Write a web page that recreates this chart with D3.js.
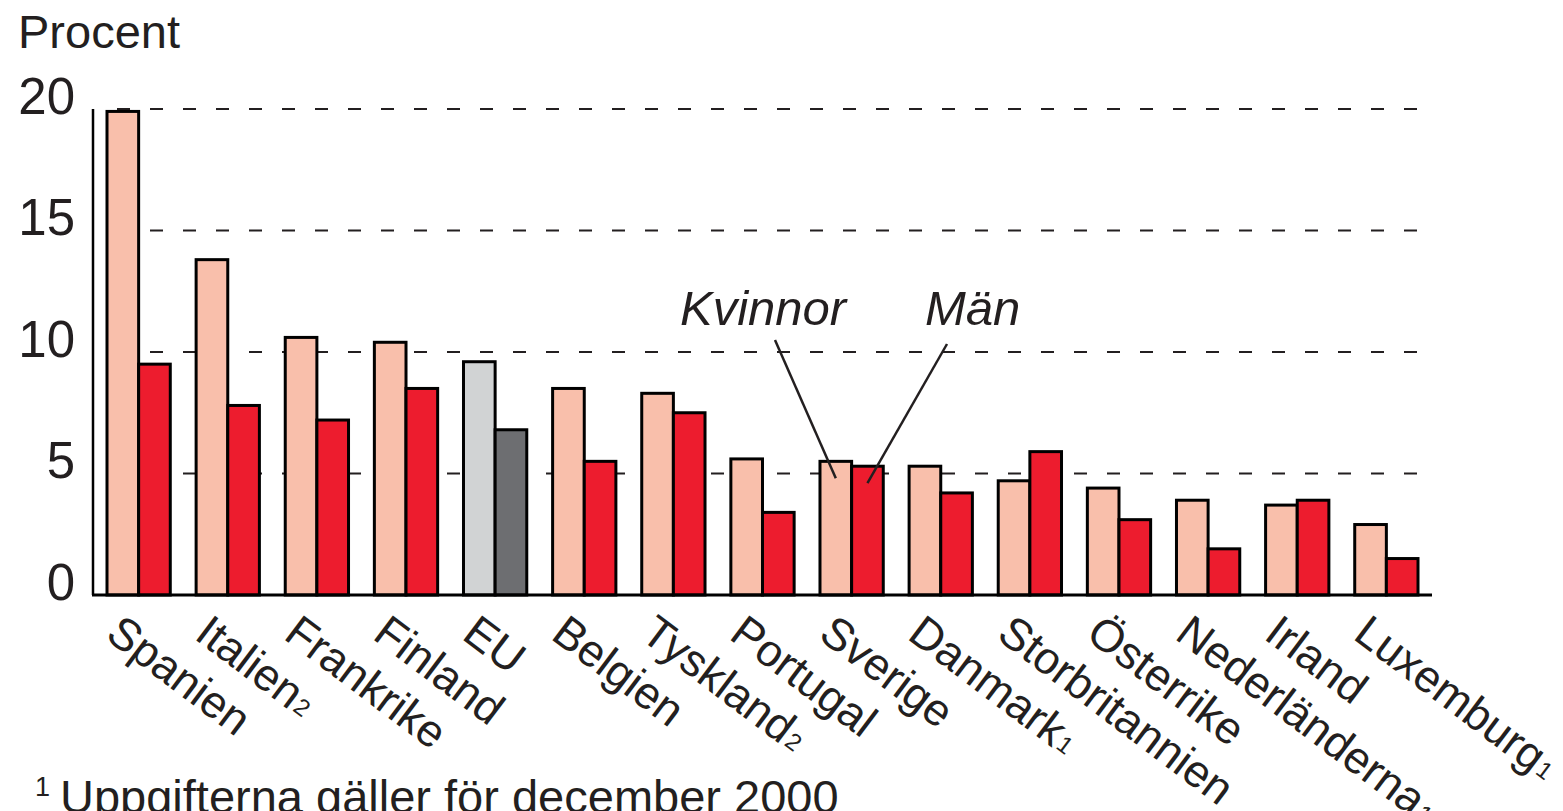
<!DOCTYPE html>
<html>
<head>
<meta charset="utf-8">
<script src="https://cdn.jsdelivr.net/npm/d3@7"></script>
<style>
  html, body { margin: 0; padding: 0; background: #fff; }
  svg { display: block; font-family: "Liberation Sans", Arial, Helvetica, sans-serif; }
</style>
</head>
<body>
<div id="chart"></div>
<script>
// Andel (procent), kvinnor och män, per land
const countries = ["Spanien", "Italien", "Frankrike", "Finland", "EU", "Belgien", "Tyskland", "Portugal",
  "Sverige", "Danmark", "Storbritannien", "Österrike", "Nederländerna", "Irland", "Luxemburg"];
const footnoteMarks = ["", "2", "", "", "", "", "2", "", "", "1", "", "", "1", "", "1"];
const women = [19.9, 13.8, 10.6, 10.4, 9.6, 8.5, 8.3, 5.6, 5.5, 5.3, 4.7, 4.4, 3.9, 3.7, 2.9];
const men = [9.5, 7.8, 7.2, 8.5, 6.8, 5.5, 7.5, 3.4, 5.3, 4.2, 5.9, 3.1, 1.9, 3.9, 1.5];
const yTicks = [0, 5, 10, 15, 20];
const sexes = ["Kvinnor", "Män"];

const width = 1563, height = 811;
const colors = {
  Kvinnor: "#f9bfab",
  "Män": "#ed1c2e",
  euKvinnor: "#d1d3d4",
  "euMän": "#6d6e71"
};

const svg = d3.select("#chart").append("svg")
  .attr("width", width)
  .attr("height", height);

const x = d3.scaleBand()
  .domain(countries)
  .range([107, 1418])
  .paddingInner(0.29)
  .paddingOuter(0);

const xSub = d3.scaleBand()
  .domain(sexes)
  .range([0, x.bandwidth()]);

const y = d3.scaleLinear()
  .domain([0, 20])
  .range([595, 109]);

// "Procent"
svg.append("text")
  .attr("x", 18)
  .attr("y", 48)
  .attr("font-size", 47)
  .attr("fill", "#231f20")
  .text("Procent");

// dashed grid
svg.append("g")
  .selectAll("line")
  .data(yTicks.filter(d => d > 0))
  .enter()
  .append("line")
  .attr("x1", 100)
  .attr("x2", 1432)
  .attr("y1", d => y(d))
  .attr("y2", d => y(d))
  .attr("stroke", "#231f20")
  .attr("stroke-width", 2)
  .attr("stroke-dasharray", "13,20")
  .attr("stroke-dashoffset", 16);

// y axis labels
const yAxis = svg.append("g")
  .attr("transform", "translate(93,0)")
  .call(d3.axisLeft(y).tickValues(yTicks).tickSize(0).tickPadding(18).tickFormat(d3.format("d")));
yAxis.select(".domain").remove();
yAxis.selectAll("text")
  .attr("font-size", 51)
  .attr("font-family", "Liberation Sans, Arial, sans-serif")
  .attr("fill", "#231f20")
  .attr("dy", "0.08em");

// bars
const rows = countries.map((c, i) => ({ country: c, values: [
  { sex: "Kvinnor", value: women[i] },
  { sex: "Män", value: men[i] }
] }));

const groups = svg.append("g")
  .selectAll("g")
  .data(rows)
  .enter()
  .append("g")
  .attr("transform", d => `translate(${x(d.country)},0)`);

groups.selectAll("rect")
  .data(d => d.values.map(v => ({ ...v, country: d.country })))
  .enter()
  .append("rect")
  .attr("x", d => xSub(d.sex))
  .attr("width", xSub.bandwidth())
  .attr("y", d => y(d.value))
  .attr("height", d => y(0) - y(d.value))
  .attr("fill", d => d.country === "EU" ? colors["eu" + d.sex] : colors[d.sex])
  .attr("stroke", "#000")
  .attr("stroke-width", 3);

// axes lines
svg.append("line")
  .attr("x1", 93).attr("x2", 93)
  .attr("y1", y(20)).attr("y2", y(0))
  .attr("stroke", "#000").attr("stroke-width", 2.5);
svg.append("line")
  .attr("x1", 92).attr("x2", 1432)
  .attr("y1", y(0)).attr("y2", y(0))
  .attr("stroke", "#000").attr("stroke-width", 3);

// country labels, rotated
const labels = svg.append("g")
  .selectAll("text")
  .data(countries)
  .enter()
  .append("text")
  .attr("transform", d => `translate(${x(d) - 3},638) rotate(37)`)
  .attr("font-size", 45)
  .attr("fill", "#231f20");
labels.append("tspan").text(d => d);
labels.append("tspan")
  .attr("font-size", 24)
  .attr("dx", 2)
  .attr("dy", -2)
  .text((d, i) => footnoteMarks[i]);

// Kvinnor / Män annotation pointing at Sverige
const ref = "Sverige";
const refIdx = countries.indexOf(ref);
const notes = [
  { sex: "Kvinnor", tx: 680, ty: 325, lx: 775, ly: 340, value: women[refIdx] },
  { sex: "Män", tx: 925, ty: 325, lx: 947, ly: 344, value: men[refIdx] }
];
svg.append("g")
  .selectAll("text")
  .data(notes)
  .enter()
  .append("text")
  .attr("x", d => d.tx)
  .attr("y", d => d.ty)
  .attr("font-size", 49)
  .attr("font-style", "italic")
  .attr("fill", "#231f20")
  .text(d => d.sex);
svg.append("g")
  .selectAll("line")
  .data(notes)
  .enter()
  .append("line")
  .attr("x1", d => d.lx)
  .attr("y1", d => d.ly)
  .attr("x2", d => x(ref) + xSub(d.sex) + xSub.bandwidth() / 2)
  .attr("y2", d => y(d.value) + 17)
  .attr("stroke", "#231f20")
  .attr("stroke-width", 2.5);

// footnote
const foot = svg.append("text")
  .attr("x", 35)
  .attr("y", 813)
  .attr("font-size", 47)
  .attr("fill", "#231f20");
foot.append("tspan").attr("font-size", 27).attr("dy", -17).text("1");
foot.append("tspan").attr("x", 60).attr("dy", 17).text("Uppgifterna gäller för december 2000");
</script>
</body>
</html>
